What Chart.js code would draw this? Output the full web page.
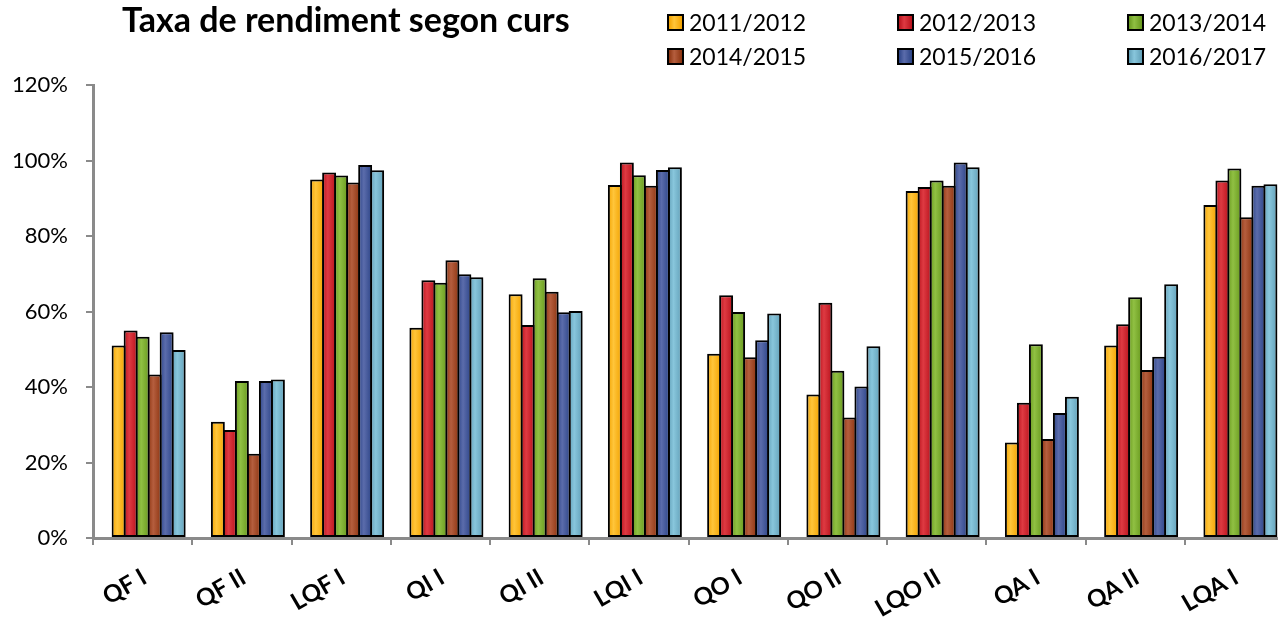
<!DOCTYPE html>
<html>
<head>
<meta charset="utf-8">
<script src="https://cdn.jsdelivr.net/npm/chart.js@4.4.1/dist/chart.umd.min.js"></script>
<style>
  html, body { margin: 0; padding: 0; background: #fff; overflow: hidden; width: 1278px; height: 622px; }
  #wrap { position: relative; width: 1278px; height: 622px; overflow: hidden; }
  #c { position: absolute; left: 0; top: 0; }
  #title { position: absolute; left: 122px; top: -1px; font-family: Lato, "DejaVu Sans", sans-serif; font-weight: bold; font-size: 34px; line-height: 40px; color: #000; white-space: nowrap; }
  .lg { position: absolute; font-family: Lato, "DejaVu Sans", sans-serif; font-size: 23px; line-height: 24px; color: #000; white-space: nowrap; }
  .lg .bx { position: absolute; left: 0; top: 4px; width: 13px; height: 13px; border: 2px solid #000; }
  .lg .tx { position: absolute; left: 22px; top: 0; }
</style>
</head>
<body>
<div id="wrap">
  <canvas id="c" width="1284" height="622" style="width:1284px;height:622px"></canvas>
  <div id="title">Taxa de rendiment segon curs</div>
</div>
<script>
// ---- data ----
const categories = ['QF I','QF II','LQF I','QI I','QI II','LQI I','QO I','QO II','LQO II','QA I','QA II','LQA I'];
const seriesLabels = ['2011/2012','2012/2013','2013/2014','2014/2015','2015/2016','2016/2017'];
const s2011_2012 = [51.0, 30.8, 95.0, 55.7, 64.6, 93.5, 48.8, 38.0, 91.9, 25.3, 51.0, 88.2];
const s2012_2013 = [55.0, 28.6, 96.8, 68.3, 56.4, 99.5, 64.3, 62.3, 93.0, 35.8, 56.6, 94.7];
const s2013_2014 = [53.3, 41.6, 96.0, 67.6, 68.8, 96.1, 59.9, 44.3, 94.7, 51.3, 63.8, 97.9];
const s2014_2015 = [43.3, 22.3, 94.2, 73.6, 65.2, 93.3, 47.9, 31.9, 93.3, 26.2, 44.5, 85.0];
const s2015_2016 = [54.5, 41.6, 98.8, 69.9, 59.8, 97.5, 52.4, 40.1, 99.5, 33.1, 48.0, 93.3];
const s2016_2017 = [49.8, 42.0, 97.4, 69.1, 60.1, 98.2, 59.5, 50.8, 98.2, 37.4, 67.2, 93.7];
const yTicks = [0, 20, 40, 60, 80, 100, 120];

// ---- styles ----
const seriesValues = [s2011_2012, s2012_2013, s2013_2014, s2014_2015, s2015_2016, s2016_2017];
const edgeColors  = ['#F2A200', '#B8121C', '#68991E', '#8C3410', '#2C4487', '#62A0B8'];
const lightColors = ['#FFC53A', '#DE3A42', '#90C043', '#B55E3E', '#5B6CAB', '#88C6DC'];

// legend (HTML) built from series labels
const wrap = document.getElementById('wrap');
const legCols = [667, 897, 1127];
const legRows = [10, 44];
seriesLabels.forEach((lab, i) => {
  const d = document.createElement('div');
  d.className = 'lg';
  d.style.left = legCols[i % 3] + 'px';
  d.style.top = legRows[Math.floor(i / 3)] + 'px';
  d.innerHTML = '<span class="bx" style="background:linear-gradient(90deg,' + edgeColors[i] + ',' + lightColors[i] + ' 40%,' + edgeColors[i] + ')"></span><span class="tx">' + lab + '</span>';
  wrap.appendChild(d);
});

function barFill(i) {
  return (c) => {
    const meta = c.chart.getDatasetMeta(c.datasetIndex);
    const el = meta && meta.data ? meta.data[c.dataIndex] : null;
    if (!el || !isFinite(el.x) || !isFinite(el.width)) return edgeColors[i];
    const g = c.chart.ctx.createLinearGradient(el.x - el.width / 2, 0, el.x + el.width / 2, 0);
    g.addColorStop(0, edgeColors[i]);
    g.addColorStop(0.4, lightColors[i]);
    g.addColorStop(1, edgeColors[i]);
    return g;
  };
}

// 7 slots per category (first is an empty spacer so the group sits right of centre, as in the original)
const CAT_PCT = 0.847, BAR_PCT = 1.16;
const datasets = [{
  label: '_gap', data: categories.map(() => null), backgroundColor: 'rgba(0,0,0,0)', borderWidth: 0,
  categoryPercentage: CAT_PCT, barPercentage: BAR_PCT
}];
seriesLabels.forEach((lab, i) => {
  datasets.push({
    label: lab,
    data: seriesValues[i],
    backgroundColor: barFill(i),
    borderColor: '#000',
    borderWidth: 2,
    borderSkipped: false,
    categoryPercentage: CAT_PCT,
    barPercentage: BAR_PCT
  });
});

const shadowPlugin = {
  id: 'barShadow',
  beforeDatasetsDraw(chart) {
    const ctx = chart.ctx;
    ctx.save();
    ctx.shadowColor = 'rgba(0,0,0,0.2)';
    ctx.shadowBlur = 5;
    ctx.shadowOffsetX = 3;
    ctx.shadowOffsetY = 2;
  },
  afterDatasetsDraw(chart) {
    chart.ctx.restore();
  }
};

const fontFam = 'Lato, "DejaVu Sans", sans-serif';
const chart = new Chart(document.getElementById('c'), {
  type: 'bar',
  data: { labels: categories, datasets },
  plugins: [shadowPlugin],
  options: {
    responsive: false,
    animation: false,
    layout: { padding: { top: 85, right: 0, left: 0, bottom: 0 } },
    plugins: { legend: { display: false }, title: { display: false }, tooltip: { enabled: false } },
    scales: {
      x: {
        grid: { drawOnChartArea: false, drawTicks: true, tickLength: 7, color: '#8a8a8a', lineWidth: 2 },
        border: { display: true, color: '#8a8a8a', width: 3 },
        ticks: { autoSkip: false, minRotation: 30, maxRotation: 30, color: '#000', padding: 18, labelOffset: 2,
                 font: { family: fontFam, size: 24, weight: 'bold' } },
        afterFit(scale) { scale.height = 84; }
      },
      y: {
        min: 0, max: 120,
        afterBuildTicks(scale) { scale.ticks = yTicks.map(v => ({ value: v })); },
        grid: { drawOnChartArea: false, drawTicks: true, tickLength: 7, color: '#8a8a8a', lineWidth: 2 },
        border: { display: true, color: '#8a8a8a', width: 3 },
        ticks: { color: '#000', padding: 18, callback: v => v + '%', font: { family: fontFam, size: 22 } },
        afterFit(scale) { scale.width = 93; }
      }
    }
  }
});
chart.update('none');
</script>
</body>
</html>
